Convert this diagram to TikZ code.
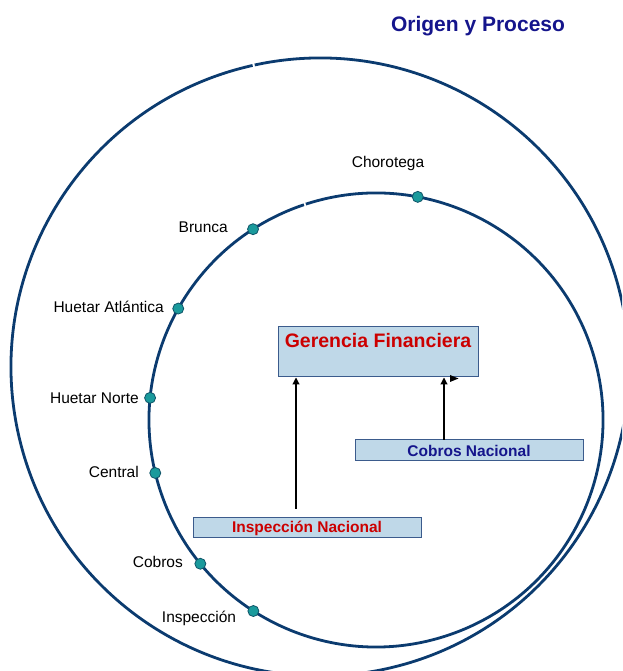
\documentclass[tikz,border=0pt]{standalone}
\usepackage{fontspec}
\setmainfont{Liberation Sans}
\usetikzlibrary{arrows.meta,calc}
\definecolor{ring}{HTML}{0B3B6F}
\definecolor{dotfill}{HTML}{1A9A9C}
\definecolor{dotline}{HTML}{0F5468}
\definecolor{boxfill}{HTML}{BFD8E8}
\definecolor{boxline}{HTML}{3B5B8C}
\definecolor{redtxt}{HTML}{CC0000}
\definecolor{navytxt}{HTML}{15158C}
\tikzset{
  ringline/.style={draw=ring, line width=2.8pt},
  regdot/.style={circle, fill=dotfill, draw=dotline, line width=0.8pt, minimum size=11pt, inner sep=0pt},
  lbl/.style={font=\fontsize{15.5}{18}\selectfont, text=black, inner sep=0pt},
  unitbox/.style={draw=boxline, fill=boxfill, line width=1pt, inner sep=0pt},
  boxtxt/.style={font=\bfseries\fontsize{15.5}{18}\selectfont, inner sep=0pt},
  conn/.style={draw=black, line width=1.1pt, -{Triangle[length=7pt,width=7pt]}}
}
\begin{document}
\begin{tikzpicture}[x=1pt,y=1pt]
\useasboundingbox (0,0) rectangle (622,671);
\clip (0,0) rectangle (622,671);
% title
\node[font=\bfseries\fontsize{21}{24}\selectfont, text=navytxt, inner sep=0pt] (title) at (478,645) {Origen y Proceso};
% rings
\coordinate (co) at (320,304);
\coordinate (ci) at (376,251);
\draw[ringline] ($(co)+(102.6:309)$) arc[start angle=102.6, end angle=462.2, radius=309];
\draw[ringline] ($(ci)+(108.5:227)$) arc[start angle=108.5, end angle=468.0, radius=227];
% dots
\node[regdot] (d1) at ($(ci)+(79.4:227)$) {};
\node[regdot] (d2) at ($(ci)+(122.8:227)$) {};
\node[regdot] (d3) at ($(ci)+(150.6:227)$) {};
\node[regdot] (d4) at ($(ci)+(174.4:227)$) {};
\node[regdot] (d5) at ($(ci)+(193.5:227)$) {};
\node[regdot] (d6) at ($(ci)+(219.3:227)$) {};
\node[regdot] (d7) at ($(ci)+(237.3:227)$) {};
% labels
\node[lbl] (l1) at (388,507) {Chorotega};
\node[lbl, anchor=east] (l2) at (228,444) {Brunca};
\node[lbl, anchor=east] (l3) at (164,364) {Huetar Atlántica};
\node[lbl, anchor=east] (l4) at (139,273) {Huetar Norte};
\node[lbl, anchor=east] (l5) at (139,199) {Central};
\node[lbl, anchor=east] (l6) at (183,109) {Cobros};
\node[lbl] (l7) at (199,53) {Inspección};
% boxes
\node[unitbox, minimum width=200pt, minimum height=50pt] (ger) at (378,319) {};
\node[font=\bfseries\fontsize{19.5}{22}\selectfont, text=redtxt, inner sep=0pt] (gert) at (378,330) {Gerencia Financiera};
\node[unitbox, minimum width=228pt, minimum height=21pt] (cob) at (469,220.5) {};
\node[boxtxt, text=navytxt] (cobt) at (469,220.5) {Cobros Nacional};
\node[unitbox, minimum width=228pt, minimum height=20pt] (ins) at (307,143) {};
\node[boxtxt, text=redtxt] (inst) at (307,143) {Inspección Nacional};
% connectors
\coordinate (a1) at (296,162);
\draw[conn] (a1) -- (a1 |- ger.south);
\coordinate (a2) at (444,231);
\draw[conn] (a2) -- (a2 |- ger.south);
\fill[black] (450,289) -- (458.5,292.5) -- (450,296) -- cycle;
\end{tikzpicture}
\end{document}
